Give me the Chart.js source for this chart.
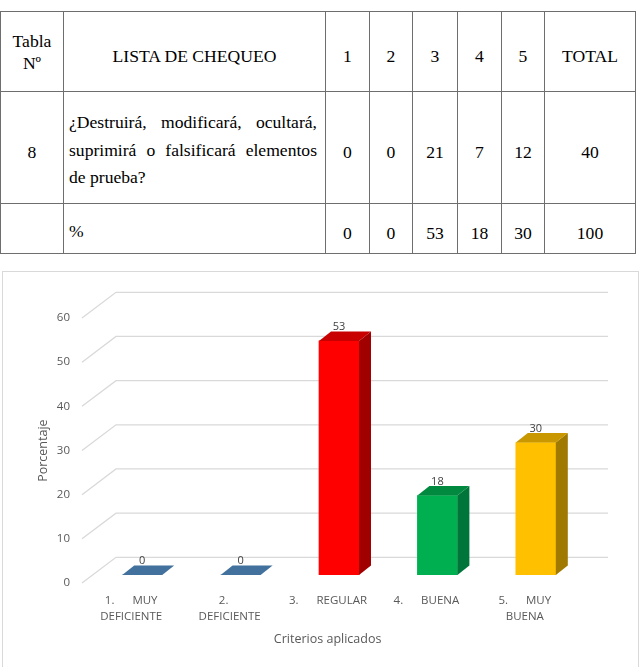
<!DOCTYPE html>
<html>
<head>
<meta charset="utf-8">
<script src="https://cdn.jsdelivr.net/npm/chart.js@4.4.0/dist/chart.umd.min.js"></script>
<style>
  body { margin: 0; background: #fff; width: 639px; height: 667px; overflow: hidden; position: relative; }
  #tabla { position: absolute; left: 0; top: 11px; width: 636px; border-collapse: collapse; table-layout: fixed;
           font-family: "Liberation Serif", "Times New Roman", serif; font-size: 17.6px; color: #000; }
  #tabla td { border: 1px solid #6e6e6e; text-align: center; vertical-align: middle; padding: 9px 0 0 0; line-height: 22px; }
  #tabla td.pregunta { text-align: left; padding: 6px 8px 0 5px; line-height: 27.5px; }
  #tabla td.pregunta div { text-align: justify; text-align-last: justify; }
  #tabla td.pregunta div.last { text-align-last: left; }
  #tabla td.num { padding-top: 0; }
  #marco { position: absolute; left: 2px; top: 271px; width: 635px; height: 400px; border: 1px solid #d9d9d9; }
  #grafico { position: absolute; left: 0; top: 0; }
</style>
</head>
<body>

<table id="tabla">
  <colgroup>
    <col style="width:63px"><col style="width:262px"><col style="width:44px"><col style="width:43px">
    <col style="width:45px"><col style="width:44px"><col style="width:43px"><col style="width:91px">
  </colgroup>
  <tr id="filaCabecera" style="height:80px"></tr>
  <tr id="filaConteo" style="height:112px"></tr>
  <tr id="filaPorcentaje" style="height:50px"></tr>
</table>

<div id="marco"><canvas id="grafico" width="635" height="395"></canvas></div>

<script>
//############################
//######   Datos      ########
//############################

const tableNumber = "8";
const question = ["¿Destruirá, modificará, ocultará,", "suprimirá o falsificará elementos", "de prueba?"];
const criteriaNumbers = ["1", "2", "3", "4", "5"];
const counts = [0, 0, 21, 7, 12];
const countTotal = 40;
const percents = [0, 0, 53, 18, 30];
const percentTotal = 100;

const sp = "\u00a0".repeat(6);
const categories = [
  ["1." + sp + "MUY", "DEFICIENTE"],
  ["2.\u00a0\u00a0\u00a0\u00a0", "DEFICIENTE"],
  ["3." + sp + "REGULAR"],
  ["4." + sp + "BUENA"],
  ["5." + sp + "MUY", "BUENA"]
];
const yTicks = [0, 10, 20, 30, 40, 50, 60];

//############################
//######   Tabla      ########
//############################

function cell(html, cls) {
  return "<td" + (cls ? " class='" + cls + "'" : "") + ">" + html + "</td>";
}

document.getElementById("filaCabecera").innerHTML =
  cell("Tabla<br>Nº", "num") + cell("LISTA DE CHEQUEO") +
  criteriaNumbers.map(n => cell(n)).join("") + cell("TOTAL");

document.getElementById("filaConteo").innerHTML =
  cell(tableNumber) +
  cell(question.map((l, i) => "<div" + (i === question.length - 1 ? " class='last'" : "") + ">" + l + "</div>").join(""), "pregunta") +
  counts.map(n => cell(n)).join("") + cell(countTotal);

document.getElementById("filaPorcentaje").innerHTML =
  cell("") + cell("<div class='last'>%</div>", "pregunta") +
  percents.map(n => cell(n)).join("") + cell(percentTotal);

//############################
//######  Grafico 3D  ########
//############################

const frontColors = ["#41719c", "#41719c", "#ff0000", "#00b050", "#ffc000"];
const topColors   = ["#41719c", "#41719c", "#c80000", "#00893f", "#c99700"];
const sideColors  = ["#335a80", "#335a80", "#a00000", "#00753a", "#a07900"];

const depth = { x: 12, y: -9.5 };    // profundidad de cada barra
const wall = { x: 23, y: -17.7 };    // pared del fondo
const front = { x: -11, y: 8 };      // plano de las etiquetas

const threeD = {
  id: "threeD",
  beforeDatasetsDraw(chart) {
    const ctx = chart.ctx, area = chart.chartArea, y = chart.scales.y;
    ctx.save();
    ctx.strokeStyle = "#d9d9d9";
    ctx.lineWidth = 1.3;
    y.ticks.forEach(t => {
      const py = y.getPixelForValue(t.value);
      ctx.beginPath();
      ctx.moveTo(area.left + front.x, py + front.y);
      ctx.lineTo(area.left + wall.x, py + wall.y);
      ctx.lineTo(area.right + wall.x, py + wall.y);
      ctx.stroke();
    });
    ctx.restore();
  },
  afterDatasetsDraw(chart) {
    const ctx = chart.ctx;
    const meta = chart.getDatasetMeta(0);
    ctx.save();
    meta.data.forEach((bar, i) => {
      const p = bar.getProps(["x", "y", "base", "width"], true);
      const l = p.x - p.width / 2, r = p.x + p.width / 2;
      // lado derecho
      ctx.fillStyle = sideColors[i];
      ctx.beginPath();
      ctx.moveTo(r, p.y);
      ctx.lineTo(r + depth.x, p.y + depth.y);
      ctx.lineTo(r + depth.x, p.base + depth.y);
      ctx.lineTo(r, p.base);
      ctx.closePath();
      ctx.fill();
      // tapa
      ctx.fillStyle = topColors[i];
      ctx.beginPath();
      ctx.moveTo(l, p.y);
      ctx.lineTo(r, p.y);
      ctx.lineTo(r + depth.x, p.y + depth.y);
      ctx.lineTo(l + depth.x, p.y + depth.y);
      ctx.closePath();
      ctx.fill();
      // etiqueta
      ctx.fillStyle = "#404040";
      ctx.font = "11px 'Open Sans'";
      ctx.textAlign = "center";
      ctx.textBaseline = "middle";
      ctx.fillText(String(percents[i]), p.x, p.y - 14);
    });
    ctx.restore();
  }
};

Chart.defaults.font.family = "'Open Sans', sans-serif";

new Chart(document.getElementById("grafico"), {
  type: "bar",
  data: {
    labels: categories,
    datasets: [{
      data: percents,
      backgroundColor: frontColors,
      borderWidth: 0,
      barThickness: 40
    }]
  },
  options: {
    responsive: false,
    animation: false,
    layout: { padding: { top: 38, right: 53, bottom: 0, left: 0 } },
    plugins: { legend: { display: false }, tooltip: { enabled: false } },
    scales: {
      x: {
        grid: { display: false, drawTicks: false },
        border: { display: false },
        ticks: { color: "#595959", font: { size: 11.5, lineHeight: 1.39 }, padding: 17.7, labelOffset: -11, maxRotation: 0, autoSkip: false },
        title: { display: true, text: "Criterios aplicados" + "\u00a0".repeat(7), color: "#595959", font: { size: 12.5, lineHeight: 1.2 }, padding: { top: 0, bottom: 20.5 } },
        afterFit(scale) { scale.height = 92; }
      },
      y: {
        min: 0,
        max: 60,
        afterBuildTicks(scale) { scale.ticks = yTicks.map(v => ({ value: v })); },
        grid: { display: false, drawTicks: false },
        border: { display: false },
        ticks: { color: "#595959", font: { size: 11.5 }, padding: 23, labelOffset: 8 },
        title: { display: true, text: "Porcentaje" + "\u00a0".repeat(5), color: "#595959", font: { size: 12.5, lineHeight: 1.2 }, padding: { top: 32.8, bottom: 0 } },
        afterFit(scale) { scale.width = 90; }
      }
    }
  },
  plugins: [threeD]
});
</script>
</body>
</html>
